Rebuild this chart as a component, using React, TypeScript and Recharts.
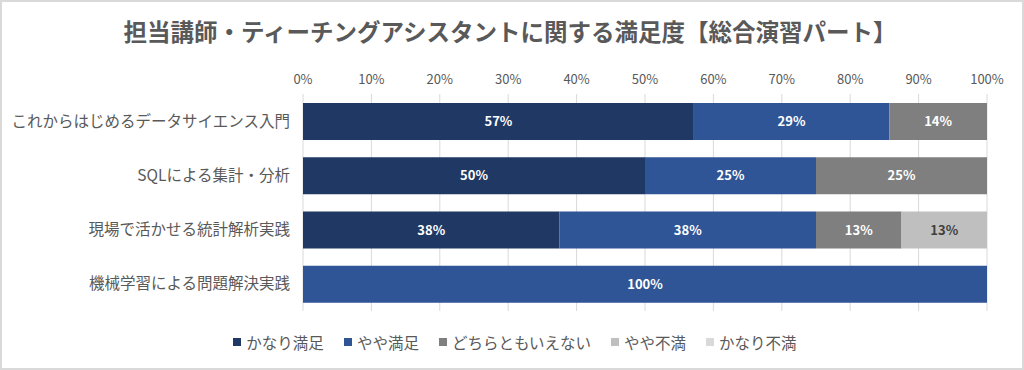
import { Bar, BarChart, CartesianGrid, LabelList, Legend, XAxis, YAxis } from "recharts";

const categories = [
  "これからはじめるデータサイエンス入門",
  "SQLによる集計・分析",
  "現場で活かせる統計解析実践",
  "機械学習による問題解決実践",
];
const verySatisfied = [57.14, 50, 37.5, 0];
const somewhatSatisfied = [28.57, 25, 37.5, 100];
const neutral = [14.29, 25, 12.5, 0];
const somewhatDissatisfied = [0, 0, 12.5, 0];
const veryDissatisfied = [0, 0, 0, 0];
const xTicks = [0, 10, 20, 30, 40, 50, 60, 70, 80, 90, 100];

const series = [
  { key: "s1", name: "かなり満足", color: "#203864", label: "#ffffff" },
  { key: "s2", name: "やや満足", color: "#2F5597", label: "#ffffff" },
  { key: "s3", name: "どちらともいえない", color: "#7F7F7F", label: "#ffffff" },
  { key: "s4", name: "やや不満", color: "#BFBFBF", label: "#404040" },
  { key: "s5", name: "かなり不満", color: "#D9D9D9", label: "#404040" },
];

const data = categories.map((name, i) => ({
  name,
  s1: verySatisfied[i],
  s2: somewhatSatisfied[i],
  s3: neutral[i],
  s4: somewhatDissatisfied[i],
  s5: veryDissatisfied[i],
}));

const FONT = '"Noto Sans CJK JP", "Noto Sans", sans-serif';

function renderLegend() {
  return (
    <div
      style={{
        display: "flex",
        justifyContent: "center",
        gap: 20,
        paddingLeft: 30,
        fontFamily: FONT,
        fontSize: 15.5,
        color: "#595959",
        lineHeight: "22px",
      }}
    >
      {series.map((s) => (
        <div key={s.key} style={{ display: "flex", alignItems: "center" }}>
          <span style={{ width: 8, height: 8, background: s.color, display: "inline-block", marginRight: 5 }} />
          <span>{s.name}</span>
        </div>
      ))}
    </div>
  );
}

export default function App() {
  return (
    <div
      style={{
        position: "fixed",
        top: 0,
        left: 0,
        width: 1024,
        height: 370,
        boxSizing: "border-box",
        border: "2px solid #d9d9d9",
        background: "#fff",
        fontFamily: FONT,
      }}
    >
      <div
        style={{
          position: "absolute",
          top: 12,
          left: 0,
          width: 1016,
          textAlign: "center",
          fontSize: 23.5,
          fontWeight: "bold",
          color: "#595959",
        }}
      >
        担当講師・ティーチングアシスタントに関する満足度【総合演習パート】
      </div>
      <div style={{ position: "absolute", top: -2, left: -2 }}>
        <BarChart
          width={1024}
          height={370}
          data={data}
          layout="vertical"
          barSize={37}
          margin={{ top: 64, right: 37, bottom: 37, left: 13 }}
        >
          <CartesianGrid horizontal={false} stroke="#d9d9d9" />
          <XAxis
            type="number"
            orientation="top"
            domain={[0, 100]}
            ticks={xTicks}
            height={30}
            axisLine={false}
            tickLine={false}
            tickMargin={4}
            tick={{ fill: "#595959", fontSize: 13 }}
            tickFormatter={(v: number) => `${v}%`}
          />
          <YAxis
            type="category"
            dataKey="name"
            width={290}
            axisLine={false}
            tickLine={false}
            tickMargin={7}
            tick={{ fill: "#595959", fontSize: 15.5 }}
          />
          <Legend verticalAlign="bottom" height={22} content={renderLegend} wrapperStyle={{ bottom: 17 }} />
          {series.map((s) => (
            <Bar key={s.key} dataKey={s.key} name={s.name} stackId="a" fill={s.color} isAnimationActive={false}>
              <LabelList
                dataKey={s.key}
                position="center"
                fill={s.label}
                fontSize={13}
                fontWeight="bold"
                formatter={(v: number) => (v > 0 ? `${Math.round(v)}%` : "")}
              />
            </Bar>
          ))}
        </BarChart>
      </div>
    </div>
  );
}
